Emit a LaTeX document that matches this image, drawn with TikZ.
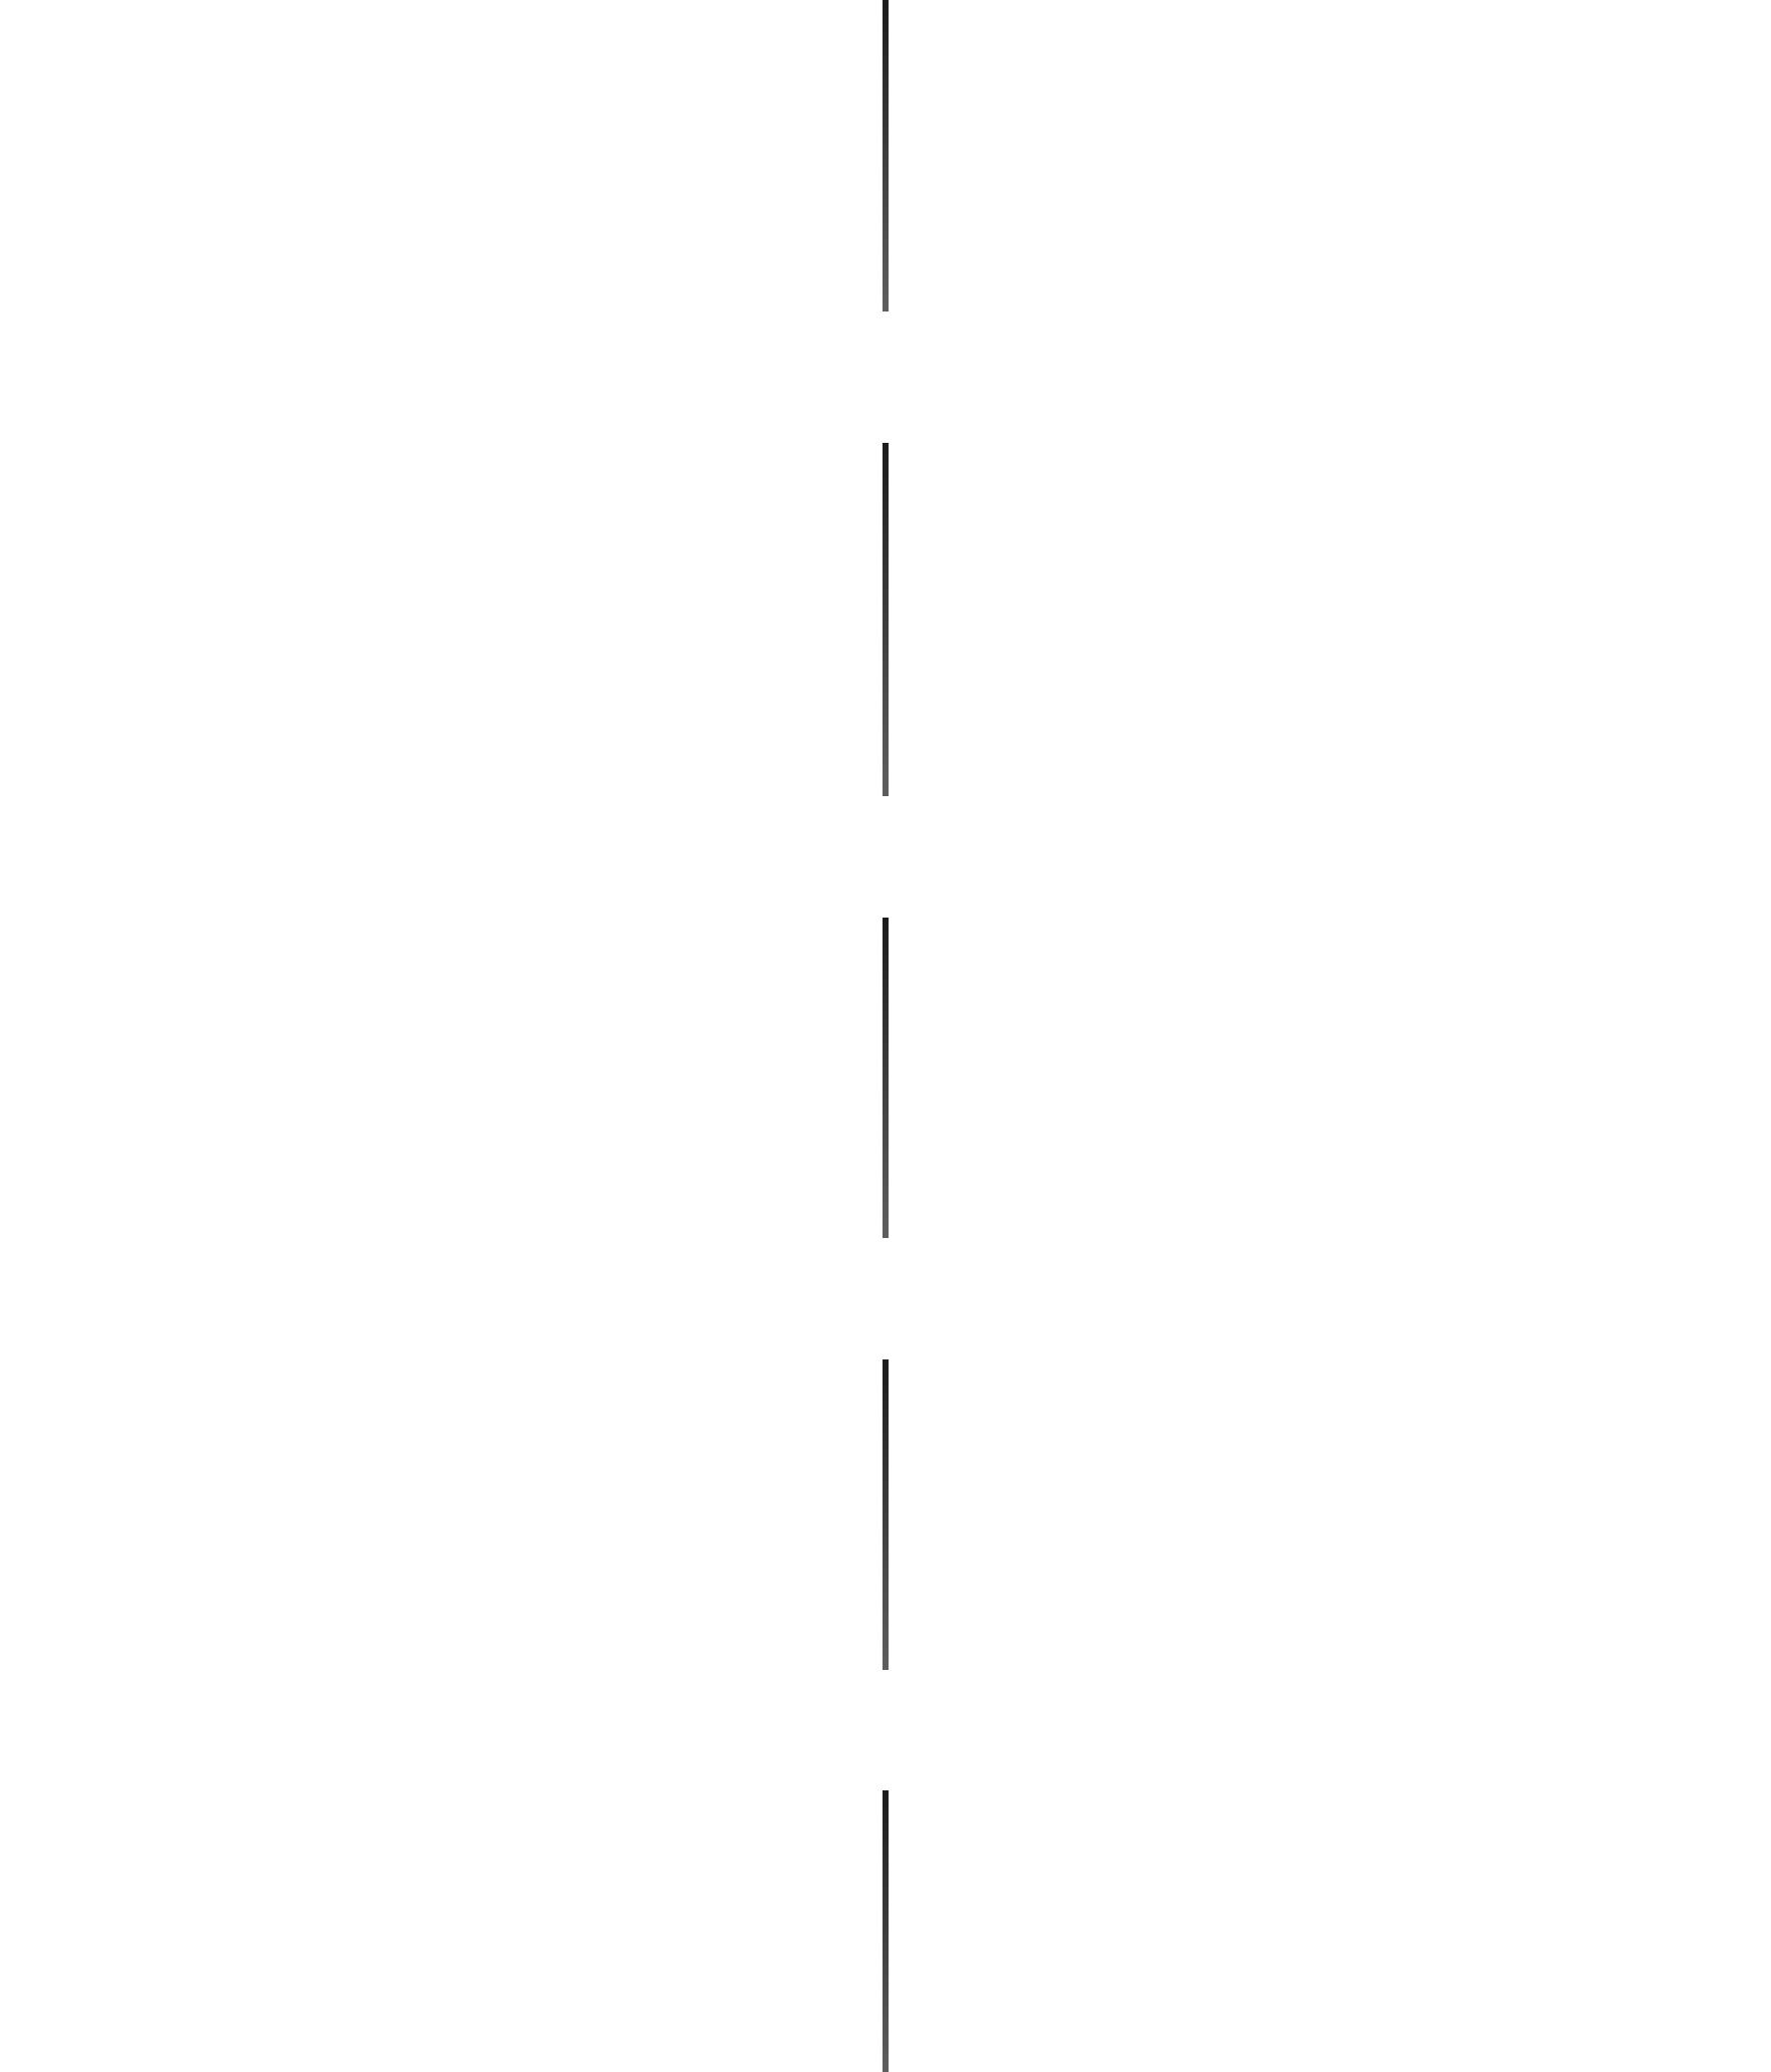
\documentclass[tikz,border=0pt]{standalone}
\definecolor{segtop}{HTML}{1C1C1C}
\definecolor{segmid}{HTML}{353535}
\definecolor{segbot}{HTML}{5E5E5E}
\tikzset{seg/.style={top color=segtop, middle color=segmid, bottom color=segbot, draw=none}}
\begin{document}
\begin{tikzpicture}[x=0.5pt,y=-0.5pt]
\useasboundingbox[fill=white] (0,0) rectangle (1779,2082);
\shade[seg] (887,0) rectangle (893,312);
\shade[seg] (887,445) rectangle (893,799);
\shade[seg] (887,922) rectangle (893,1243);
\shade[seg] (887,1366) rectangle (893,1677);
\shade[seg] (887,1799) rectangle (893,2082);
\end{tikzpicture}
\end{document}
